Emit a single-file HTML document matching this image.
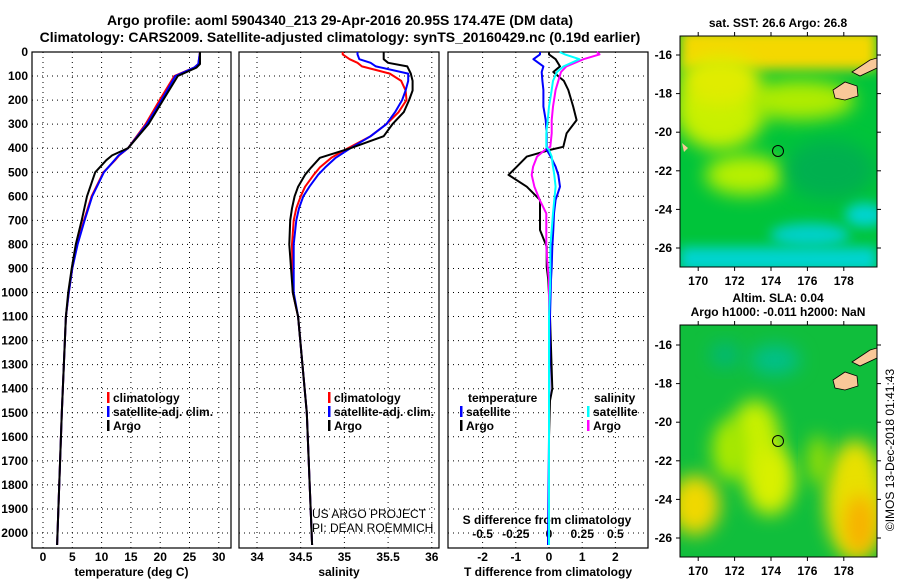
<!DOCTYPE html>
<html><head><meta charset="utf-8"><style>
body{margin:0;background:#fff}
svg{display:block;font-family:"Liberation Sans",sans-serif;font-weight:bold}
</style></head><body>
<svg id="c" width="900" height="580" viewBox="0 0 900 580">
<defs>
<filter id="bl" x="-50%" y="-50%" width="200%" height="200%"><feGaussianBlur stdDeviation="9"/></filter>
<filter id="bl2" x="-50%" y="-50%" width="200%" height="200%"><feGaussianBlur stdDeviation="6"/></filter>
<clipPath id="m1"><rect x="680" y="36" width="197" height="231"/></clipPath>
<clipPath id="m2"><rect x="680" y="325" width="197" height="232"/></clipPath>
</defs>
<text x="340" y="25" font-size="14" text-anchor="middle">Argo profile: aoml 5904340_213 29-Apr-2016 20.95S 174.47E (DM data)</text>
<text x="340" y="42" font-size="14" text-anchor="middle">Climatology: CARS2009. Satellite-adjusted climatology: synTS_20160429.nc (0.19d earlier)</text>
<g id="g"></g>
<g clip-path="url(#m1)">
<rect x="680" y="36" width="197" height="231" fill="#00c43a"/>
<rect x="680" y="30" width="197" height="40" fill="#f4d800" filter="url(#bl2)"/>
<ellipse cx="720" cy="110" rx="45" ry="40" fill="#c8f000" filter="url(#bl)"/>
<ellipse cx="745" cy="175" rx="40" ry="20" fill="#b8f000" filter="url(#bl)"/>
<ellipse cx="800" cy="100" rx="55" ry="20" fill="#b0ec00" filter="url(#bl)"/>
<ellipse cx="720" cy="80" rx="40" ry="25" fill="#e0ec00" filter="url(#bl)"/>
<ellipse cx="830" cy="170" rx="45" ry="30" fill="#00b050" filter="url(#bl)"/>
<rect x="680" y="247" width="197" height="25" fill="#00d4d0" filter="url(#bl2)"/>
<ellipse cx="810" cy="235" rx="40" ry="12" fill="#00d0c8" filter="url(#bl2)"/>
<ellipse cx="865" cy="215" rx="20" ry="12" fill="#00d4d0" filter="url(#bl2)"/>
<path d="M833 90 L845 82 L857 86 L858 96 L845 100 L835 98 Z" fill="#f8c898" stroke="#000" stroke-width="0.8"/>
<path d="M852 72 L870 60 L877 58 L877 68 L860 76 Z" fill="#f8c898" stroke="#000" stroke-width="0.8"/>
<path d="M682 143 L688 148 L684 152 Z" fill="#f8c898"/>
<circle cx="778" cy="151" r="5.5" fill="none" stroke="#000"/>
</g>
<g clip-path="url(#m2)">
<rect x="680" y="325" width="197" height="232" fill="#10be3c"/>
<ellipse cx="775" cy="360" rx="25" ry="15" fill="#00c08a" filter="url(#bl)"/>
<ellipse cx="725" cy="355" rx="15" ry="12" fill="#00b878" filter="url(#bl)"/>
<ellipse cx="755" cy="440" rx="25" ry="40" fill="#c8f000" filter="url(#bl)"/>
<ellipse cx="770" cy="480" rx="25" ry="35" fill="#d8f000" filter="url(#bl)"/>
<ellipse cx="730" cy="450" rx="18" ry="30" fill="#a8e800" filter="url(#bl)"/>
<ellipse cx="695" cy="505" rx="25" ry="30" fill="#f0d800" filter="url(#bl)"/>
<ellipse cx="855" cy="500" rx="30" ry="60" fill="#e8e000" filter="url(#bl)"/>
<ellipse cx="860" cy="525" rx="15" ry="30" fill="#f8b000" filter="url(#bl)"/>
<ellipse cx="818" cy="460" rx="10" ry="25" fill="#a0e000" filter="url(#bl)"/>
<path d="M833 380 L845 372 L857 376 L858 386 L845 390 L835 388 Z" fill="#f8c898" stroke="#000" stroke-width="0.8"/>
<path d="M852 362 L870 350 L877 348 L877 358 L860 366 Z" fill="#f8c898" stroke="#000" stroke-width="0.8"/>
<circle cx="778" cy="441" r="5.5" fill="none" stroke="#000"/>
</g>
<rect x="680" y="36" width="197" height="231" fill="none" stroke="#000"/>
<rect x="680" y="325" width="197" height="232" fill="none" stroke="#000"/>
<text x="778" y="27" font-size="12" text-anchor="middle">sat. SST: 26.6 Argo: 26.8</text>
<text x="778" y="302" font-size="12" text-anchor="middle">Altim. SLA: 0.04</text>
<text x="778" y="316" font-size="12" text-anchor="middle">Argo h1000: -0.011 h2000: NaN</text>
<text transform="translate(894,450) rotate(-90)" font-size="12" font-weight="normal" text-anchor="middle">©IMOS 13-Dec-2018 01:41:43</text>
<text x="312" y="518" font-size="12" font-weight="normal">US ARGO PROJECT</text>
<text x="312" y="532" font-size="12" font-weight="normal">PI: DEAN ROEMMICH</text>
</svg>
<script>
const tDepth=[0,50,65,100,200,300,400,430,450,500,600,700,800,900,1000,1100,1500,2050];
const tArgo=[26.8,26.8,26.2,23,20.5,18,14.5,11.8,10.8,8.9,7.5,6.6,5.6,4.9,4.3,3.9,3.2,2.4];
const tClim=[26.8,26.5,25.8,22.4,19.9,17.5,14.5,13,12.3,10.3,8.3,7,5.8,5,4.4,3.9,3.2,2.4];
const tSat=[26.8,26.5,25.8,22.6,20.2,17.7,14.5,12.9,12.2,10.4,8.4,7.1,5.9,5,4.4,3.9,3.2,2.4];
const sDepth=[0,10,30,45,60,90,120,160,200,250,300,350,400,440,480,510,560,600,650,700,800,1000,1100,1500,2050];
const sArgo=[35.45,35.45,35.45,35.5,35.72,35.76,35.78,35.78,35.74,35.68,35.55,35.45,35.07,34.72,34.62,34.55,34.47,34.43,34.4,34.38,34.37,34.41,34.47,34.57,34.63];
const sClim=[34.98,34.98,35.06,35.15,35.2,35.52,35.65,35.7,35.71,35.62,35.48,35.3,35.04,34.85,34.72,34.65,34.55,34.5,34.45,34.42,34.4,34.41,34.47,34.57,34.63];
const sSat=[35.15,35.15,35.17,35.3,35.36,35.73,35.73,35.7,35.66,35.58,35.48,35.3,35.07,34.9,34.78,34.7,34.6,34.53,34.48,34.45,34.42,34.42,34.47,34.57,34.63];
const dDepth=[0,10,30,60,83,120,158,227,283,338,394,407,435,477,511,560,615,671,740,810,893,948,1100,1400,1450,1600,2050];
const dTArgo=[0,0,0.2,0.33,0.13,0.45,0.58,0.73,0.83,0.53,0.43,0.03,-0.67,-0.97,-1.22,-0.67,-0.27,-0.27,-0.27,-0.07,-0.07,-0.02,0.03,0.1,0.03,0,0];
const dTSat=[-0.27,-0.27,-0.47,-0.17,-0.22,-0.2,-0.17,-0.17,-0.1,-0.07,-0.07,-0.07,0.05,0.2,0.28,0.33,0.2,0.15,0.13,0.1,0.08,0.06,0.03,0.01,0,0,-0.03];
const dSArgo=[0.36,0.38,0.26,0.13,0.09,0.07,0.05,0.03,0.02,0.02,0.01,-0.03,-0.09,-0.12,-0.13,-0.11,-0.07,-0.02,-0.02,-0.02,-0.01,0,0,0,0,0,0];
const dSSat=[0.08,0.12,0.23,0.11,0.06,0.03,0.02,0,-0.01,-0.02,-0.02,0,0.02,0.03,0.04,0.05,0.04,0.03,0.02,0.01,0.01,0.01,0,0,0,0,0];
const depthTicks=[0,100,200,300,400,500,600,700,800,900,1000,1100,1200,1300,1400,1500,1600,1700,1800,1900,2000];
const tTicks=[0,5,10,15,20,25,30];
const sTicks=[34,34.5,35,35.5,36];
const dtTicks=[-2,-1,0,1,2];
const dsTicks=[-0.5,-0.25,0,0.25,0.5];

const NS='http://www.w3.org/2000/svg';
const G=document.getElementById('g');
function mk(tag,at,txt){const e=document.createElementNS(NS,tag);for(const k in at)e.setAttribute(k,at[k]);if(txt!==undefined)e.textContent=txt;G.appendChild(e);return e;}
const Y=d=>52+0.2405*d;
const xT=v=>43+5.86*v, xS=v=>257+87.4*(v-34), xDT=v=>549+33.2*v, xDS=v=>549+132.8*v;
const panels=[[32,231,tTicks,xT,'temperature (deg C)','temp'],[239,439,sTicks,xS,'salinity','sal'],[448,648,dtTicks,xDT,'T difference from climatology','tdiff']];
panels.forEach(p=>{
  const [x0,x1,ticks,fx,title,nm]=p;
  depthTicks.forEach(d=>{const l=mk('line',{x1:x0,x2:x1,y1:Y(d),y2:Y(d),stroke:'#000','stroke-dasharray':'1 4','stroke-width':1});
    
    });
  ticks.forEach(v=>{const l=mk('line',{x1:fx(v),x2:fx(v),y1:52,y2:548,stroke:'#000','stroke-dasharray':'1 4','stroke-width':1});
    
    
    const t=mk('text',{x:fx(v),y:561,'font-size':12,'text-anchor':'middle'},String(v));
    
    });
  const r=mk('rect',{x:x0,y:52,width:x1-x0,height:496,fill:'none',stroke:'#000','stroke-width':1.2});
  
  
  const tt=mk('text',{x:(x0+x1)/2,y:576,'font-size':12,'text-anchor':'middle'},title);
  
  
});
depthTicks.forEach(d=>{const t=mk('text',{x:28,y:Y(d)+4,'font-size':12,'text-anchor':'end'},String(d));
  
  });
dsTicks.forEach(v=>{const t=mk('text',{x:xDS(v),y:538,'font-size':12,'text-anchor':'middle'},String(v));
  
  });
{const t=mk('text',{x:547,y:524,'font-size':12,'text-anchor':'middle'},'S difference from climatology');
 
 }
function line(ds,vs,fx,col,nm){
  const d=ds.map((dd,i)=>(i?'L':'M')+fx(vs[i]).toFixed(1)+' '+Y(dd).toFixed(1)).join(' ');
  const p=mk('path',{d:d,fill:'none',stroke:col,'stroke-width':2,'stroke-linejoin':'round'});
  
  
}
line(tDepth,tClim,xT,'#f00','temp-climatology-line');
line(tDepth,tSat,xT,'#00f','temp-satellite-line');
line(tDepth,tArgo,xT,'#000','temp-argo-line');
line(sDepth,sClim,xS,'#f00','sal-climatology-line');
line(sDepth,sSat,xS,'#00f','sal-satellite-line');
line(sDepth,sArgo,xS,'#000','sal-argo-line');
line(dDepth,dTArgo,xDT,'#000','tdiff-argo-line');
line(dDepth,dSArgo,xDS,'#f0f','sdiff-argo-line');
line(dDepth,dTSat,xDT,'#00f','tdiff-satellite-line');
line(dDepth,dSSat,xDS,'#0ff','sdiff-satellite-line');
function leg(x,y,col,txt,nm){
  const r=mk('rect',{x:x,y:y-10,width:2.5,height:11,fill:col});
  
  
  const t=mk('text',{x:x+6,y:y,'font-size':12},txt);
  
  
}
leg(107,402,'#f00','climatology','legend-temp-climatology');
leg(107,416,'#00f','satellite-adj. clim.','legend-temp-satellite');
leg(107,430,'#000','Argo','legend-temp-argo');
leg(328,402,'#f00','climatology','legend-sal-climatology');
leg(328,416,'#00f','satellite-adj. clim.','legend-sal-satellite');
leg(328,430,'#000','Argo','legend-sal-argo');
{const t=mk('text',{x:468,y:402,'font-size':12},'temperature');
 
 
 const u=mk('text',{x:594,y:402,'font-size':12},'salinity');
 
 }
leg(460,416,'#00f','satellite','legend-tdiff-satellite');
leg(460,430,'#000','Argo','legend-tdiff-argo');
leg(587,416,'#0ff','satellite','legend-sdiff-satellite');
leg(587,430,'#f0f','Argo','legend-sdiff-argo');
const lonTicks=[170,172,174,176,178];
const latTicks=[-16,-18,-20,-22,-24,-26];
[[36,267,55,19.3],[325,557,345,19.3]].forEach(m=>{
  const [top,bot,y16,sc]=m;
  lonTicks.forEach(v=>{const x=680+18.2*(v-169);
    mk('line',{x1:x,x2:x,y1:bot,y2:bot+4,stroke:'#000'});mk('line',{x1:x,x2:x,y1:top,y2:top-4,stroke:'#000'});
    const t=mk('text',{x:x,y:bot+18,'font-size':12,'text-anchor':'middle'},String(v));
    
    });
  latTicks.forEach(v=>{const y=y16+sc*(-16-v);
    mk('line',{x1:676,x2:680,y1:y,y2:y,stroke:'#000'});mk('line',{x1:877,x2:881,y1:y,y2:y,stroke:'#000'});
    const t=mk('text',{x:672,y:y+4,'font-size':12,'text-anchor':'end'},String(v));
    
    });
});
</script>
</body></html>
